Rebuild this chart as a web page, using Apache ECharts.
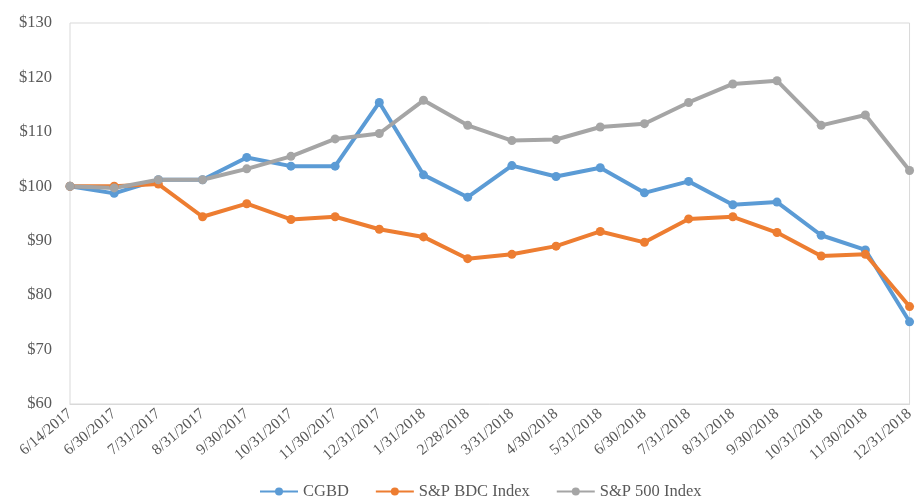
<!DOCTYPE html>
<html>
<head>
<meta charset="utf-8">
<script src="https://cdn.jsdelivr.net/npm/echarts@6/dist/echarts.min.js"></script>
<style>
  html, body { margin: 0; padding: 0; background: #fff; }
  #chart { width: 917px; height: 497px; }
</style>
</head>
<body>
<div id="chart"></div>
<script>
// Period-end dates for the cumulative total return comparison
const dates = [
  '6/14/2017', '6/30/2017', '7/31/2017', '8/31/2017', '9/30/2017',
  '10/31/2017', '11/30/2017', '12/31/2017', '1/31/2018', '2/28/2018',
  '3/31/2018', '4/30/2018', '5/31/2018', '6/30/2018', '7/31/2018',
  '8/31/2018', '9/30/2018', '10/31/2018', '11/30/2018', '12/31/2018'
];

// Value of a $100 investment
const cgbd = [100, 98.7, 101.2, 101.2, 105.3, 103.7, 103.7, 115.4, 102.1, 98.0,
              103.8, 101.8, 103.4, 98.8, 100.9, 96.6, 97.1, 91.0, 88.3, 75.1];
const spBdc = [100, 100.0, 100.4, 94.4, 96.8, 93.9, 94.4, 92.1, 90.7, 86.7,
               87.5, 89.0, 91.7, 89.7, 94.0, 94.4, 91.5, 87.2, 87.5, 77.9];
const sp500 = [100, 99.7, 101.2, 101.2, 103.2, 105.5, 108.7, 109.7, 115.8, 111.2,
               108.4, 108.6, 110.9, 111.5, 115.4, 118.8, 119.4, 111.2, 113.1, 102.9];

const yTicks = { min: 60, max: 130, step: 10 };

const font = '"Liberation Serif", "Times New Roman", serif';
const textColor = '#595959';

function lineSeries(name, data, color) {
  return {
    name: name,
    type: 'line',
    data: data,
    symbol: 'circle',
    symbolSize: 9,
    lineStyle: { width: 4, color: color },
    itemStyle: { color: color },
    emphasis: { disabled: true }
  };
}

const chart = echarts.init(document.getElementById('chart'), null, { renderer: 'canvas' });
chart.setOption({
  animation: false,
  backgroundColor: '#ffffff',
  textStyle: { fontFamily: font },
  grid: {
    left: 70, right: 3, top: 23, bottom: 93,
    show: true, borderColor: '#d9d9d9', borderWidth: 1
  },
  legend: {
    top: 478,
    left: 254,
    itemWidth: 38,
    itemHeight: 10,
    itemGap: 26,
    textStyle: { fontFamily: font, fontSize: 16.5, color: textColor },
    data: ['CGBD', 'S&P BDC Index', 'S&P 500 Index']
  },
  xAxis: {
    type: 'category',
    data: dates,
    boundaryGap: false,
    axisLine: { lineStyle: { color: '#d9d9d9' } },
    axisTick: { show: false },
    axisLabel: {
      rotate: 40,
      interval: 0,
      margin: 8,
      fontFamily: font,
      fontSize: 15.5,
      color: textColor
    },
    splitLine: { show: false }
  },
  yAxis: {
    type: 'value',
    min: yTicks.min,
    max: yTicks.max,
    interval: yTicks.step,
    axisLine: { show: false },
    axisTick: { show: false },
    splitLine: { show: false },
    axisLabel: {
      margin: 18,
      fontFamily: font,
      fontSize: 16.5,
      color: textColor,
      formatter: v => '$' + v
    }
  },
  series: [
    lineSeries('CGBD', cgbd, '#5B9BD5'),
    lineSeries('S&P BDC Index', spBdc, '#ED7D31'),
    lineSeries('S&P 500 Index', sp500, '#A5A5A5')
  ]
});
</script>
</body>
</html>
